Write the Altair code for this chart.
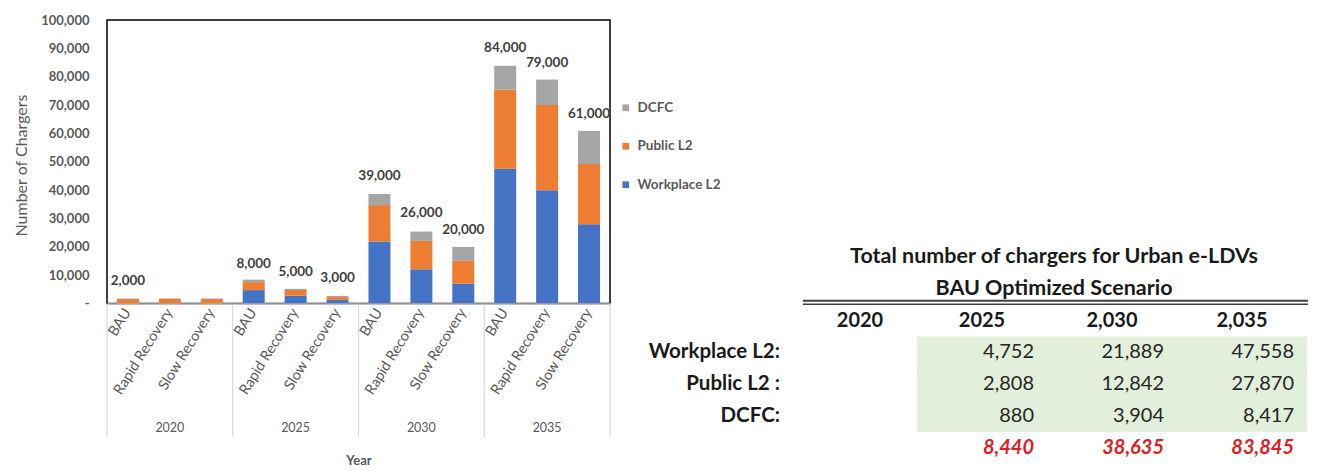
import altair as alt
import pandas as pd

FONT = "Lato"

# ---------------- bar chart data ----------------
years = ["2020", "2025", "2030", "2035"]
scenarios = ["BAU", "Rapid Recovery", "Slow Recovery"]
charger_types = ["DCFC", "Public L2", "Workplace L2"]
type_colors = ["#a5a5a5", "#ed7d31", "#4472c4"]

# order: (2020 BAU, Rapid, Slow), (2025 ...), (2030 ...), (2035 ...)
workplace_l2 = [0, 0, 0, 4752, 2800, 1300, 21889, 12100, 7000, 47558, 40000, 28000]
public_l2 = [1600, 1600, 1600, 2808, 2000, 1000, 12842, 10000, 8100, 27870, 30000, 21200]
dcfc = [200, 200, 200, 880, 400, 400, 3904, 3300, 4900, 8417, 9000, 11700]
total_labels = [2000, None, None, 8000, 5000, 3000, 39000, 26000, 20000, 84000, 79000, 61000]

y_ticks = [0, 10000, 20000, 30000, 40000, 50000, 60000, 70000, 80000, 90000, 100000]

# ---------------- table data ----------------
table_title = ["Total number of chargers for Urban e-LDVs", "BAU Optimized Scenario"]
table_years = ["2020", "2025", "2030", "2035"]
table_headers = ["2020", "2025", "2,030", "2,035"]
table_rows = ["Workplace L2:", "Public L2 :", "DCFC:"]
table_workplace = [None, 4752, 21889, 47558]
table_public = [None, 2808, 12842, 27870]
table_dcfc = [None, 880, 3904, 8417]
table_totals = [None, 8440, 38635, 83845]

# ---------------- build frames ----------------
keys = [f"{y}|{s}" for y in years for s in scenarios]
series = {"Workplace L2": workplace_l2, "Public L2": public_l2, "DCFC": dcfc}
stack_rank = {"Workplace L2": 0, "Public L2": 1, "DCFC": 2}
bar_rows = []
for t, vals in series.items():
    for k, v in zip(keys, vals):
        bar_rows.append({"key": k, "type": t, "value": v, "rank": stack_rank[t]})
bars_df = pd.DataFrame(bar_rows)

label_df = pd.DataFrame(
    [{"key": k, "value": v} for k, v in zip(keys, total_labels) if v is not None]
)
year_df = pd.DataFrame([{"key": f"{y}|Rapid Recovery", "year": y} for y in years])
sep_df = pd.DataFrame([{"key": f"{y}|BAU"} for y in years])
sep_end_df = pd.DataFrame([{"key": keys[-1]}])

W = 503
H = 283.6
STEP = W / len(keys)

x_enc = alt.X(
    "key:N",
    sort=keys,
    scale=alt.Scale(domain=keys, paddingInner=0.475, paddingOuter=0.2375),
    axis=alt.Axis(
        title="Year",
        titleFont=FONT,
        titleFontSize=13,
        titleFontWeight="bold",
        titleColor="#595959",
        titleY=157,
        titleBaseline="middle",
        labelExpr="split(datum.value, '|')[1]",
        labelAngle=-58,
        labelAlign="right",
        labelBaseline="middle",
        labelFont=FONT,
        labelFontSize=14.5,
        labelColor="#595959",
        labelPadding=6,
        labelOverlap=False,
        ticks=False,
        domain=True,
        domainColor="#bfbfbf",
        domainWidth=1.5,
        zindex=1,
        grid=False,
    ),
)

y_axis = alt.Axis(
    title="Number of Chargers",
    titleFont=FONT,
    titleFontSize=16,
    titleFontWeight="normal",
    titleColor="#595959",
    titleY=145,
    titlePadding=11,
    values=y_ticks,
    labelExpr="datum.value == 0 ? '-' : format(datum.value, ',')",
    labelFont=FONT,
    labelFontSize=13,
    labelFontWeight="bold",
    labelColor="#595959",
    labelPadding=18,
    labelOverlap=False,
    ticks=False,
    domain=False,
    grid=False,
)
y_scale = alt.Scale(domain=[0, 100000], nice=False)

bars = alt.Chart(bars_df).mark_bar().encode(
    x=x_enc,
    y=alt.Y("value:Q", stack="zero", scale=y_scale, axis=y_axis),
    color=alt.Color(
        "type:N",
        scale=alt.Scale(domain=charger_types, range=type_colors),
        legend=alt.Legend(
            title=None,
            orient="none",
            legendX=512,
            legendY=81,
            symbolType="square",
            symbolSize=45,
            symbolStrokeWidth=0,
            labelFont=FONT,
            labelFontSize=13.5,
            labelFontWeight="bold",
            labelColor="#595959",
            labelOffset=5,
            rowPadding=23.5,
        ),
    ),
    order=alt.Order("rank:Q", sort="ascending"),
)

labels = alt.Chart(label_df).mark_text(
    dy=-17, font=FONT, fontSize=13.5, fontWeight="bold", color="#404040"
).encode(
    x=x_enc,
    y=alt.Y("value:Q", scale=y_scale, axis=y_axis),
    text=alt.Text("value:Q", format=","),
)

year_labels = alt.Chart(year_df).mark_text(
    font=FONT, fontSize=12.5, color="#595959"
).encode(x=x_enc, y=alt.value(H + 124), text="year:N")

seps = alt.Chart(sep_df).mark_rule(color="#d9d9d9", strokeWidth=1.2, xOffset=-STEP / 2).encode(
    x=x_enc, y=alt.value(H), y2=alt.value(417)
)
sep_end = alt.Chart(sep_end_df).mark_rule(color="#d9d9d9", strokeWidth=1.2, xOffset=STEP / 2).encode(
    x=x_enc, y=alt.value(H), y2=alt.value(417)
)

left = alt.layer(seps, sep_end, bars, labels, year_labels).properties(
    width=W,
    height=H,
    view=alt.ViewBackground(stroke="#000000", strokeWidth=1.5),
)

# ---------------- table chart ----------------
cols = ["label"] + table_years
row_domain = ["title1", "title2", "header"] + table_rows + ["total"]

x_tab = alt.X("col:N", scale=alt.Scale(domain=cols, paddingInner=0, paddingOuter=0), axis=None)
x_tab_end = alt.X("col:N", bandPosition=1, scale=alt.Scale(domain=cols, paddingInner=0, paddingOuter=0), axis=None)
y_tab = alt.Y(
    "row:N",
    scale=alt.Scale(domain=row_domain, range=[221.5, 443.4], paddingInner=0, paddingOuter=0),
    axis=None,
)

value_rows = []
bg_rows = []
for rname, vals in zip(table_rows, [table_workplace, table_public, table_dcfc]):
    for c, v in zip(table_years, vals):
        if v is not None:
            value_rows.append({"row": rname, "col": c, "value": v})
            bg_rows.append({"row": rname, "col": c})
values_df = pd.DataFrame(value_rows)
bg_df = pd.DataFrame(bg_rows)
totals_df = pd.DataFrame(
    [{"row": "total", "col": c, "value": v} for c, v in zip(table_years, table_totals) if v is not None]
)
header_df = pd.DataFrame(
    [{"row": "header", "col": c, "text": h} for c, h in zip(table_years, table_headers)]
)
rowlabel_df = pd.DataFrame([{"row": r, "col": "label", "text": r} for r in table_rows])
title_df = pd.DataFrame(
    [{"row": "title1", "col": "2025", "text": table_title[0]},
     {"row": "title2", "col": "2025", "text": table_title[1]}]
)
rule_df = pd.DataFrame([{"row": "header", "col": "2020", "col2": "2035"}])

bg = alt.Chart(bg_df).mark_rect(color="#e2efda").encode(x=x_tab, y=y_tab)

hdr_first = alt.Chart(header_df[header_df["col"] == "2020"]).mark_text(
    font=FONT, fontSize=20, fontWeight="bold", color="#1a1a1a", dx=8
).encode(x=x_tab, y=y_tab, text="text:N")
hdr_rest = alt.Chart(header_df[header_df["col"] != "2020"]).mark_text(
    font=FONT, fontSize=20, fontWeight="bold", color="#1a1a1a"
).encode(x=x_tab, y=y_tab, text="text:N")

rowlabels = alt.Chart(rowlabel_df).mark_text(
    font=FONT, fontSize=20.5, fontWeight="bold", color="#1a1a1a", align="right", dx=-7
).encode(x=x_tab_end, y=y_tab, text="text:N")

vals_txt = alt.Chart(values_df).mark_text(
    font=FONT, fontSize=20, color="#262626", align="right", dx=-13
).encode(x=x_tab_end, y=y_tab, text=alt.Text("value:Q", format=","))

tot_txt = alt.Chart(totals_df).mark_text(
    font=FONT, fontSize=20, fontWeight="bold", fontStyle="italic", color="#e0201f", align="right", dx=-13
).encode(x=x_tab_end, y=y_tab, text=alt.Text("value:Q", format=","))

title_txt = alt.Chart(title_df).mark_text(
    font=FONT, fontSize=21.5, fontWeight="bold", color="#1a1a1a", dx=7
).encode(x=x_tab_end, y=y_tab, text="text:N")

rule_a = alt.Chart(rule_df).mark_rule(
    color="#404040", strokeWidth=2, xOffset=-49, x2Offset=66, yOffset=-20
).encode(x=x_tab, x2="col2:N", y=y_tab)
rule_b = alt.Chart(rule_df).mark_rule(
    color="#404040", strokeWidth=1.3, xOffset=-49, x2Offset=66, yOffset=-16.5
).encode(x=x_tab, x2="col2:N", y=y_tab)

right = alt.layer(bg, rule_a, rule_b, hdr_first, hdr_rest, rowlabels, vals_txt, tot_txt, title_txt).properties(
    width=650, height=430
)

chart = (
    alt.hconcat(left, right, spacing=47)
    .properties(bounds="flush", padding={"left": 4, "top": 5, "right": 0, "bottom": 0})
    .configure(font=FONT)
    .configure_view(stroke=None)
)

chart.save("out.html", embed_options={"renderer": "svg", "actions": False})
